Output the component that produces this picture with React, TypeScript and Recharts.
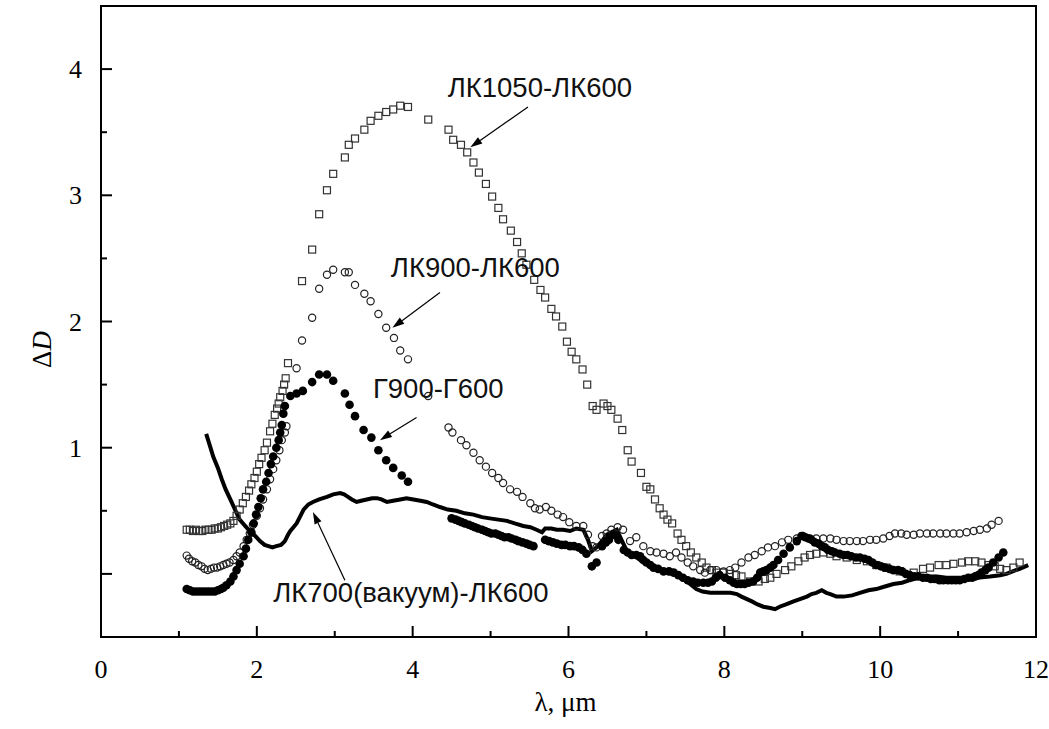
import { ComposedChart, XAxis, YAxis, Scatter, Line, ReferenceArea, ReferenceLine, ReferenceDot, Label } from "recharts";

// x: wavelength, um; y: ΔD
const LK1050: [number, number][] = [
  [1.10, 0.35], [1.14, 0.35], [1.18, 0.34], [1.22, 0.35], [1.26, 0.34], [1.30, 0.34], [1.34, 0.35],
  [1.38, 0.35], [1.42, 0.35], [1.46, 0.36], [1.50, 0.36], [1.54, 0.37], [1.58, 0.38], [1.62, 0.39],
  [1.66, 0.40], [1.70, 0.42], [1.74, 0.46], [1.78, 0.51], [1.82, 0.56], [1.86, 0.61], [1.90, 0.66],
  [1.93, 0.71], [1.97, 0.76], [2.00, 0.81], [2.03, 0.87], [2.06, 0.92], [2.10, 0.98], [2.13, 1.04],
  [2.17, 1.13], [2.20, 1.19], [2.23, 1.26], [2.26, 1.31], [2.28, 1.35], [2.30, 1.40], [2.33, 1.45],
  [2.35, 1.50], [2.37, 1.55], [2.40, 1.67], [2.58, 2.32], [2.71, 2.57], [2.80, 2.85], [2.90, 3.04],
  [2.98, 3.17], [3.13, 3.30], [3.18, 3.40], [3.26, 3.45], [3.38, 3.52], [3.46, 3.59], [3.56, 3.63],
  [3.66, 3.66], [3.75, 3.68], [3.84, 3.71], [3.94, 3.70], [4.20, 3.60], [4.46, 3.52], [4.52, 3.44],
  [4.62, 3.40], [4.70, 3.34], [4.78, 3.26], [4.85, 3.18], [4.94, 3.09], [5.02, 2.99], [5.10, 2.90],
  [5.16, 2.81], [5.26, 2.72], [5.34, 2.63], [5.40, 2.54], [5.46, 2.45], [5.56, 2.33], [5.64, 2.25],
  [5.70, 2.19], [5.78, 2.10], [5.84, 2.04], [5.92, 1.96], [5.98, 1.84], [6.04, 1.76], [6.10, 1.70],
  [6.18, 1.62], [6.24, 1.50], [6.31, 1.33], [6.36, 1.30], [6.45, 1.35], [6.50, 1.33], [6.55, 1.30],
  [6.63, 1.23], [6.69, 1.14], [6.76, 0.98], [6.81, 0.89], [6.93, 0.80], [7.00, 0.69], [7.05, 0.67],
  [7.11, 0.59], [7.17, 0.52], [7.22, 0.47], [7.27, 0.43], [7.33, 0.40], [7.40, 0.32], [7.45, 0.27],
  [7.51, 0.22], [7.57, 0.17], [7.64, 0.13], [7.71, 0.09], [7.77, 0.05], [7.84, 0.03], [7.90, 0.01],
  [7.99, 0.01], [8.07, 0.00], [8.15, -0.01], [8.22, -0.02], [8.33, -0.06], [8.44, -0.06], [8.52, -0.04],
  [8.59, -0.03], [8.67, 0.00], [8.78, 0.03], [8.86, 0.06], [8.95, 0.10], [9.03, 0.13], [9.10, 0.15],
  [9.18, 0.16], [9.27, 0.17], [9.36, 0.16], [9.44, 0.14], [9.57, 0.13], [9.70, 0.11], [9.83, 0.10],
  [9.95, 0.07], [10.08, 0.05], [10.25, 0.02], [10.43, 0.01], [10.55, 0.04], [10.64, 0.05], [10.75, 0.07],
  [10.85, 0.07], [10.94, 0.08], [11.05, 0.09], [11.13, 0.10], [11.22, 0.10], [11.30, 0.09], [11.39, 0.07],
  [11.47, 0.06], [11.54, 0.04], [11.62, 0.03], [11.71, 0.05], [11.79, 0.09],
];

const LK900: [number, number][] = [
  [1.10, 0.145], [1.13, 0.12], [1.17, 0.10], [1.21, 0.09], [1.25, 0.07], [1.29, 0.06], [1.33, 0.04],
  [1.37, 0.03], [1.41, 0.04], [1.45, 0.05], [1.49, 0.05], [1.53, 0.06], [1.57, 0.07], [1.61, 0.08],
  [1.65, 0.09], [1.70, 0.11], [1.74, 0.14], [1.78, 0.17], [1.83, 0.22], [1.87, 0.27], [1.91, 0.32],
  [1.95, 0.39], [2.00, 0.46], [2.04, 0.52], [2.08, 0.59], [2.13, 0.67], [2.17, 0.75], [2.21, 0.83],
  [2.25, 0.90], [2.29, 0.98], [2.32, 1.06], [2.36, 1.12], [2.38, 1.17], [2.51, 1.63], [2.58, 1.85],
  [2.71, 2.03], [2.80, 2.26], [2.90, 2.37], [2.98, 2.41], [3.13, 2.39], [3.18, 2.39], [3.26, 2.29],
  [3.38, 2.22], [3.46, 2.16], [3.56, 2.06], [3.66, 1.95], [3.76, 1.87], [3.84, 1.77], [3.94, 1.70],
  [4.20, 1.41], [4.46, 1.16], [4.51, 1.12], [4.62, 1.06], [4.69, 1.02], [4.78, 0.96], [4.86, 0.90],
  [4.94, 0.85], [5.02, 0.80], [5.10, 0.76], [5.16, 0.72], [5.25, 0.67], [5.34, 0.65], [5.41, 0.61],
  [5.51, 0.56], [5.57, 0.52], [5.63, 0.51], [5.71, 0.53], [5.78, 0.50], [5.86, 0.47], [5.93, 0.45],
  [6.01, 0.41], [6.10, 0.38], [6.19, 0.38], [6.25, 0.31], [6.31, 0.22], [6.36, 0.21], [6.43, 0.30],
  [6.49, 0.32], [6.55, 0.35], [6.63, 0.37], [6.70, 0.35], [6.79, 0.26], [6.87, 0.29], [6.96, 0.22],
  [7.05, 0.18], [7.13, 0.17], [7.22, 0.16], [7.30, 0.14], [7.38, 0.17], [7.45, 0.13], [7.53, 0.09],
  [7.60, 0.06], [7.69, 0.03], [7.75, 0.01], [7.82, 0.03], [7.90, 0.03], [7.99, 0.02], [8.07, 0.03],
  [8.14, 0.05], [8.22, 0.09], [8.31, 0.13], [8.39, 0.15], [8.48, 0.18], [8.56, 0.21], [8.65, 0.22],
  [8.74, 0.25], [8.82, 0.27], [8.93, 0.28], [9.01, 0.30], [9.10, 0.28], [9.18, 0.28], [9.27, 0.28],
  [9.36, 0.28], [9.44, 0.27], [9.53, 0.26], [9.61, 0.26], [9.70, 0.26], [9.78, 0.26], [9.87, 0.27],
  [9.95, 0.27], [10.04, 0.28], [10.12, 0.30], [10.19, 0.32], [10.27, 0.32], [10.34, 0.31], [10.43, 0.31],
  [10.51, 0.32], [10.60, 0.32], [10.68, 0.32], [10.77, 0.32], [10.85, 0.32], [10.94, 0.32], [11.02, 0.32],
  [11.11, 0.33], [11.20, 0.34], [11.28, 0.35], [11.37, 0.36], [11.43, 0.39], [11.52, 0.42],
];

const G900: [number, number][] = [
  [1.10, -0.12], [1.14, -0.13], [1.18, -0.14], [1.22, -0.14], [1.26, -0.14], [1.30, -0.14], [1.34, -0.14],
  [1.38, -0.14], [1.42, -0.14], [1.46, -0.14], [1.50, -0.13], [1.54, -0.12], [1.57, -0.11], [1.61, -0.09],
  [1.66, -0.06], [1.70, -0.02], [1.74, 0.03], [1.78, 0.08], [1.83, 0.14], [1.86, 0.20], [1.89, 0.27],
  [1.93, 0.33], [1.96, 0.40], [1.99, 0.47], [2.02, 0.53], [2.05, 0.60], [2.08, 0.67], [2.12, 0.73],
  [2.15, 0.80], [2.18, 0.87], [2.21, 0.93], [2.25, 1.00], [2.28, 1.06], [2.30, 1.12], [2.32, 1.18],
  [2.34, 1.27], [2.36, 1.33], [2.43, 1.41], [2.51, 1.43], [2.59, 1.45], [2.71, 1.52], [2.80, 1.58],
  [2.90, 1.58], [2.98, 1.53], [3.13, 1.43], [3.19, 1.34], [3.26, 1.25], [3.37, 1.14], [3.47, 1.08],
  [3.56, 0.98], [3.66, 0.90], [3.75, 0.84], [3.86, 0.78], [3.94, 0.73],
  [4.50, 0.44], [4.55, 0.43], [4.59, 0.42], [4.63, 0.41], [4.67, 0.40], [4.72, 0.39], [4.76, 0.38],
  [4.80, 0.37], [4.84, 0.36], [4.89, 0.35], [4.93, 0.34], [4.97, 0.33], [5.01, 0.32], [5.06, 0.32],
  [5.10, 0.31], [5.14, 0.30], [5.18, 0.29], [5.23, 0.29], [5.27, 0.28], [5.32, 0.27], [5.36, 0.26],
  [5.41, 0.25], [5.46, 0.24], [5.50, 0.23], [5.55, 0.22],
  [5.70, 0.27], [5.75, 0.26], [5.80, 0.25], [5.85, 0.24], [5.91, 0.23], [5.96, 0.23], [6.02, 0.22],
  [6.07, 0.22], [6.13, 0.21], [6.18, 0.19], [6.23, 0.16], [6.30, 0.06], [6.36, 0.09], [6.43, 0.22],
  [6.48, 0.25], [6.52, 0.27], [6.58, 0.31], [6.64, 0.27], [6.71, 0.19], [6.76, 0.17], [6.81, 0.15],
  [6.87, 0.15], [6.92, 0.14], [6.96, 0.11], [7.00, 0.09], [7.05, 0.07], [7.09, 0.05], [7.15, 0.04],
  [7.22, 0.02], [7.29, 0.02], [7.35, 0.01], [7.41, -0.01], [7.47, -0.03], [7.53, -0.05], [7.60, -0.06],
  [7.66, -0.07], [7.73, -0.07], [7.79, -0.07], [7.84, -0.06], [7.89, -0.03], [7.94, -0.01], [8.01, -0.03],
  [8.07, -0.05], [8.12, -0.07], [8.16, -0.08], [8.21, -0.08], [8.26, -0.08], [8.31, -0.07], [8.37, -0.06],
  [8.42, -0.03], [8.46, 0.01], [8.50, 0.02], [8.54, 0.03], [8.59, 0.05], [8.63, 0.07], [8.69, 0.11],
  [8.76, 0.16], [8.84, 0.21], [8.93, 0.26], [8.99, 0.30], [9.04, 0.29], [9.08, 0.28], [9.12, 0.27],
  [9.16, 0.25], [9.21, 0.24], [9.25, 0.22], [9.29, 0.21], [9.33, 0.19], [9.38, 0.18], [9.42, 0.17],
  [9.48, 0.16], [9.53, 0.15], [9.58, 0.15], [9.63, 0.14], [9.69, 0.13], [9.74, 0.13], [9.80, 0.12],
  [9.85, 0.11], [9.90, 0.09], [9.95, 0.07], [10.01, 0.06], [10.06, 0.05], [10.12, 0.04], [10.17, 0.03],
  [10.23, 0.03], [10.28, 0.02], [10.33, 0.00], [10.38, -0.01], [10.44, -0.02], [10.49, -0.02],
  [10.55, -0.03], [10.60, -0.03], [10.65, -0.04], [10.70, -0.04], [10.76, -0.05], [10.81, -0.05],
  [10.87, -0.05], [10.92, -0.05], [10.97, -0.05], [11.02, -0.05], [11.08, -0.04], [11.13, -0.03],
  [11.18, -0.03], [11.22, -0.02], [11.26, -0.01], [11.30, 0.01], [11.35, 0.03], [11.39, 0.05],
  [11.45, 0.09], [11.52, 0.13], [11.58, 0.17],
];

const LK700: [number, number][] = [
  [1.35, 1.11], [1.40, 1.01], [1.44, 0.93], [1.50, 0.84], [1.55, 0.75], [1.60, 0.67], [1.66, 0.59],
  [1.72, 0.51], [1.78, 0.43], [1.85, 0.38], [1.91, 0.34], [1.98, 0.30], [2.04, 0.26], [2.10, 0.23],
  [2.15, 0.22], [2.20, 0.21], [2.25, 0.22], [2.31, 0.23], [2.36, 0.26], [2.40, 0.31], [2.43, 0.34],
  [2.47, 0.37], [2.51, 0.40], [2.56, 0.46], [2.60, 0.51], [2.66, 0.55], [2.72, 0.57], [2.80, 0.59],
  [2.90, 0.61], [2.98, 0.63], [3.07, 0.64], [3.12, 0.63], [3.17, 0.61], [3.22, 0.59], [3.28, 0.57],
  [3.34, 0.58], [3.41, 0.59], [3.48, 0.60], [3.54, 0.60], [3.60, 0.59], [3.67, 0.57], [3.75, 0.58],
  [3.84, 0.59], [3.92, 0.60], [4.01, 0.59], [4.10, 0.58], [4.18, 0.57], [4.26, 0.55], [4.35, 0.53],
  [4.45, 0.51], [4.56, 0.50], [4.67, 0.48], [4.78, 0.47], [4.89, 0.45], [4.99, 0.44], [5.10, 0.43],
  [5.21, 0.42], [5.31, 0.40], [5.42, 0.38], [5.51, 0.37], [5.59, 0.35], [5.66, 0.33], [5.70, 0.36],
  [5.78, 0.36], [5.85, 0.35], [5.93, 0.35], [6.02, 0.34], [6.10, 0.36], [6.19, 0.35], [6.25, 0.27],
  [6.30, 0.18], [6.36, 0.21], [6.43, 0.26], [6.49, 0.31], [6.55, 0.33], [6.62, 0.35], [6.68, 0.27],
  [6.75, 0.18], [6.83, 0.15], [6.92, 0.11], [7.05, 0.06], [7.22, 0.02], [7.39, -0.01], [7.52, -0.06],
  [7.64, -0.12], [7.72, -0.14], [7.82, -0.15], [7.90, -0.15], [7.99, -0.15], [8.08, -0.15], [8.16, -0.16],
  [8.22, -0.18], [8.29, -0.20], [8.36, -0.22], [8.42, -0.24], [8.50, -0.26], [8.59, -0.27], [8.65, -0.28],
  [8.71, -0.26], [8.80, -0.24], [8.88, -0.22], [8.97, -0.20], [9.06, -0.18], [9.12, -0.16], [9.18, -0.15],
  [9.25, -0.13], [9.31, -0.15], [9.36, -0.16], [9.44, -0.18], [9.53, -0.18], [9.64, -0.17], [9.74, -0.15],
  [9.85, -0.13], [9.95, -0.12], [10.06, -0.10], [10.17, -0.08], [10.28, -0.07], [10.38, -0.05],
  [10.49, -0.03], [10.60, -0.02], [10.73, -0.02], [10.85, -0.03], [10.96, -0.03], [11.07, -0.03],
  [11.24, -0.03], [11.41, -0.02], [11.54, -0.01], [11.62, 0.00], [11.70, 0.02], [11.79, 0.04], [11.90, 0.07],
];

const X_TICKS = [0, 1, 2, 3, 4, 5, 6, 7, 8, 9, 10, 11, 12];
const Y_TICKS = [0, 0.5, 1, 1.5, 2, 2.5, 3, 3.5, 4];

// label text anchor (left/baseline) and arrow tail -> head, all in data units
const NOTES = [
  { text: "ЛК1050-ЛК600", at: [4.45, 3.78], from: [5.48, 3.70], to: [4.74, 3.38] },
  { text: "ЛК900-ЛК600", at: [3.72, 2.35], from: [4.35, 2.23], to: [3.74, 1.95] },
  { text: "Г900-Г600", at: [3.49, 1.39], from: [4.05, 1.24], to: [3.58, 1.06] },
  { text: "ЛК700(вакуум)-ЛК600", at: [2.21, -0.22], from: [3.13, -0.05], to: [2.72, 0.49] },
];

const toRows = (pts: [number, number][]) => pts.map(([x, y]) => ({ x, y }));

const SERIF = "'Liberation Serif', 'Times New Roman', serif";
const SANS = "'Liberation Sans', Arial, sans-serif";

function XTick(props: any) {
  const { x, y, payload } = props;
  const major = payload.value % 2 === 0;
  return (
    <g>
      <line x1={x} y1={y} x2={x} y2={y - (major ? 11 : 6)} stroke="#000" strokeWidth={2} />
      {major && (
        <text x={x} y={y + 41} textAnchor="middle" fontFamily={SERIF} fontSize={26} fill="#000">
          {payload.value}
        </text>
      )}
    </g>
  );
}

function YTick(props: any) {
  const { x, y, payload } = props;
  const major = Number.isInteger(payload.value);
  return (
    <g>
      <line x1={x} y1={y} x2={x + (major ? 11 : 6)} y2={y} stroke="#000" strokeWidth={2} />
      {major && payload.value !== 0 && (
        <text x={x - 19} y={y + 9} textAnchor="end" fontFamily={SERIF} fontSize={26} fill="#000">
          {payload.value}
        </text>
      )}
    </g>
  );
}

const squareShape = (p: any) => (
  <rect x={p.cx - 3.5} y={p.cy - 3.5} width={7} height={7} fill="none" stroke="#333" strokeWidth={1.2} />
);
const openCircle = (p: any) => (
  <circle cx={p.cx} cy={p.cy} r={3.6} fill="none" stroke="#222" strokeWidth={1.2} />
);
const filledCircle = (p: any) => <circle cx={p.cx} cy={p.cy} r={4.3} fill="#000" />;

const arrowShape = (p: any) => {
  const { x1, y1, x2, y2 } = p;
  const a = Math.atan2(y2 - y1, x2 - x1);
  const len = 12;
  const w = 3.8;
  const bx = x2 - len * Math.cos(a);
  const by = y2 - len * Math.sin(a);
  const nx = -Math.sin(a) * w;
  const ny = Math.cos(a) * w;
  return (
    <g>
      <line x1={x1} y1={y1} x2={bx} y2={by} stroke="#000" strokeWidth={1.2} />
      <polygon points={`${x2},${y2} ${bx + nx},${by + ny} ${bx - nx},${by - ny}`} fill="#000" />
    </g>
  );
};

export default function App() {
  return (
    <div style={{ position: "absolute", left: 0, top: 0, width: 1049, height: 729, background: "#fff" }}>
      <ComposedChart width={1049} height={729} margin={{ top: 6, right: 13, left: 0, bottom: 0 }}>
        <XAxis
          type="number"
          dataKey="x"
          domain={[0, 12]}
          ticks={X_TICKS}
          interval={0}
          height={92}
          tickSize={0}
          tickMargin={0}
          tickLine={false}
          tick={<XTick />}
          axisLine={{ stroke: "#000", strokeWidth: 2 }}
        >
          <Label
            content={(p: any) => (
              <text
                x={p.viewBox.x + p.viewBox.width / 2 - 3}
                y={p.viewBox.y + 74}
                textAnchor="middle"
                fontFamily={SERIF}
                fontSize={27}
                fill="#000"
              >
                λ, μm
              </text>
            )}
          />
        </XAxis>
        <YAxis
          type="number"
          dataKey="y"
          domain={[-0.5, 4.5]}
          ticks={Y_TICKS}
          interval={0}
          width={101}
          tickSize={0}
          tickMargin={0}
          tickLine={false}
          tick={<YTick />}
          axisLine={{ stroke: "#000", strokeWidth: 2 }}
        >
          <Label
            content={(p: any) => {
              const cx = 51;
              const cy = p.viewBox.y + p.viewBox.height / 2 + 28;
              return (
                <text
                  x={cx}
                  y={cy}
                  transform={`rotate(-90, ${cx}, ${cy})`}
                  textAnchor="middle"
                  fontFamily={SERIF}
                  fontSize={27}
                  fill="#000"
                >
                  <tspan>Δ</tspan>
                  <tspan fontStyle="italic">D</tspan>
                </text>
              );
            }}
          />
        </YAxis>
        <ReferenceArea x1={0} x2={12} y1={-0.5} y2={4.5} fill="none" stroke="#000" strokeWidth={2} />
        <Line
          data={toRows(LK700)}
          dataKey="y"
          type="linear"
          stroke="#000"
          strokeWidth={4}
          dot={false}
          activeDot={false}
          isAnimationActive={false}
        />
        <Scatter data={toRows(LK1050)} shape={squareShape} isAnimationActive={false} />
        <Scatter data={toRows(LK900)} shape={openCircle} isAnimationActive={false} />
        <Scatter data={toRows(G900)} shape={filledCircle} isAnimationActive={false} />
        {NOTES.map((n) => (
          <ReferenceLine
            key={"a" + n.text}
            segment={[
              { x: n.from[0], y: n.from[1] },
              { x: n.to[0], y: n.to[1] },
            ]}
            shape={arrowShape}
          />
        ))}
        {NOTES.map((n) => (
          <ReferenceDot
            key={"t" + n.text}
            x={n.at[0]}
            y={n.at[1]}
            shape={(p: any) => (
              <text x={p.cx} y={p.cy} fontFamily={SANS} fontSize={27.5} fill="#111">
                {n.text}
              </text>
            )}
          />
        ))}
      </ComposedChart>
    </div>
  );
}
